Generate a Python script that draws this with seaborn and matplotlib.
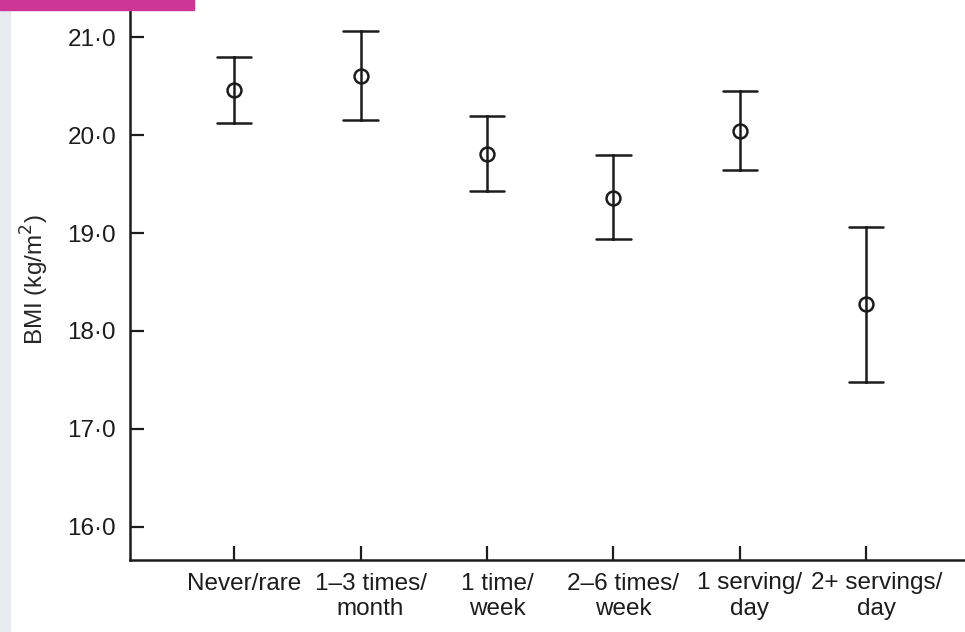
#! /usr/bin/env python3
import pandas as pd
import seaborn as sns
import matplotlib as mpl
import matplotlib.pyplot as plt
from matplotlib.patches import Rectangle
from matplotlib.ticker import FuncFormatter
from matplotlib.transforms import ScaledTranslation

# data
categories = ["Never/rare", "1\u20133 times/\nmonth", "1 time/\nweek",
              "2\u20136 times/\nweek", "1 serving/\nday", "2+ servings/\nday"]
bmi_mean = [20.46, 20.60, 19.81, 19.36, 20.04, 18.27]
bmi_low = [20.12, 20.15, 19.43, 18.94, 19.64, 17.48]
bmi_high = [20.80, 21.06, 20.20, 19.80, 20.45, 19.06]
y_ticks = [16.0, 17.0, 18.0, 19.0, 20.0, 21.0]

sns.set_theme(style="white")
plt.rcParams["font.family"] = ["Liberation Sans", "DejaVu Sans"]

rows = []
for c, lo, m, hi in zip(categories, bmi_low, bmi_mean, bmi_high):
    for v in (lo, m, hi):
        rows.append((c, v))
df = pd.DataFrame(rows, columns=["cat", "bmi"])

ink = "#1c1c1c"
fig = plt.figure(figsize=(9.65, 6.32), dpi=100)
fig.patches.append(Rectangle((0, 0), 10 / 965, 1, transform=fig.transFigure,
                             color="#e8ecf0", zorder=0))
ax = fig.add_axes([130 / 965, 1 - 560 / 632, 1 - 130 / 965, 560 / 632])

# median of (low, mean, high) is the mean; pi 100 spans low..high
sns.pointplot(data=df, x="cat", y="bmi", order=categories,
              estimator="median", errorbar=("pi", 100),
              linestyle="none", marker="o", markersize=10,
              markerfacecolor="white", markeredgecolor=ink, markeredgewidth=1.8,
              color=ink, capsize=0.27, err_kws={"linewidth": 1.8}, ax=ax)

ax.set_xlim(-0.823, 5.78)
ax.set_ylim(15.66, 21.38)
ax.set_yticks(y_ticks)
ax.yaxis.set_major_formatter(FuncFormatter(lambda v, p: f"{v:.1f}".replace(".", "\u00b7")))
ax.set_xticks(range(len(categories)))
ax.set_xticklabels(categories, multialignment="center", linespacing=1.2)
ax.set_xlabel("")
ax.set_ylabel("BMI (kg/m$^2$)", fontsize=17.5, labelpad=12)
ax.tick_params(axis="both", direction="in", length=10, width=1.6, colors=ink,
               labelsize=17.5, bottom=True, left=True)
ax.tick_params(axis="x", pad=9)
ax.tick_params(axis="y", pad=10)
# labels in the reference sit a little right of their ticks
shift = ScaledTranslation(0.10, 0, fig.dpi_scale_trans)
for lab in ax.get_xticklabels():
    lab.set_transform(lab.get_transform() + shift)
for side in ("top", "right"):
    ax.spines[side].set_visible(False)
for side in ("left", "bottom"):
    ax.spines[side].set_color(ink)
    ax.spines[side].set_linewidth(1.8)

fig.patches.append(Rectangle((0, 1 - 10 / 632), 194 / 965, 10 / 632,
                             transform=fig.transFigure, color="#cd3695", zorder=5))

plt.savefig("out.png", dpi=100)
